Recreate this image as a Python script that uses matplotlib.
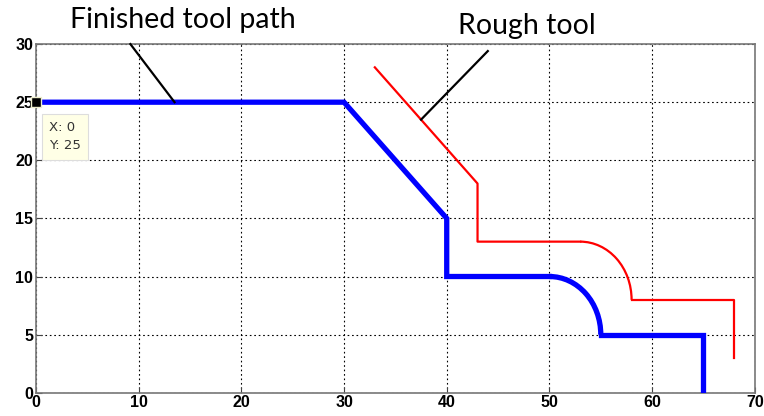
import matplotlib.pyplot as plt
from matplotlib.patches import Arc

# finished tool path (blue), straight parts
fin_x1 = [0, 30, 40, 40, 50]
fin_y1 = [25, 25, 15, 10, 10]
fin_x2 = [55, 65, 65]
fin_y2 = [5, 5, 0]
fin_arc = (50, 5, 5)  # centre x, centre y, radius

# rough tool path (red)
rough_x1 = [33, 43, 43, 53]
rough_y1 = [28, 18, 13, 13]
rough_x2 = [58, 68, 68]
rough_y2 = [8, 8, 3]
rough_arc = (53, 8, 5)

xticks = [0, 10, 20, 30, 40, 50, 60, 70]
yticks = [0, 5, 10, 15, 20, 25, 30]

tip_x, tip_y = 0, 25


def main():
  fig = plt.figure(figsize=(7.64, 4.16), dpi=100)
  ax = fig.add_axes([0.047, 0.056, 0.941, 0.838])

  blue = "#0000ff"
  red = "#ff0000"

  ax.plot(fin_x1, fin_y1, color=blue, lw=3.8, solid_joinstyle="miter", zorder=3)
  ax.plot(fin_x2, fin_y2, color=blue, lw=3.8, solid_joinstyle="miter", zorder=3)
  cx, cy, r = fin_arc
  ax.add_patch(Arc((cx, cy), 2*r, 2*r, theta1=0, theta2=90, color=blue, lw=3.8, zorder=3))

  ax.plot(rough_x1, rough_y1, color=red, lw=1.6, zorder=3)
  ax.plot(rough_x2, rough_y2, color=red, lw=1.6, zorder=3)
  cx, cy, r = rough_arc
  ax.add_patch(Arc((cx, cy), 2*r, 2*r, theta1=0, theta2=90, color=red, lw=1.6, zorder=3))

  ax.set_xlim(0, 70)
  ax.set_ylim(0, 30)
  ax.set_xticks(xticks)
  ax.set_yticks(yticks)
  ax.tick_params(direction="in", length=4, labelsize=11.5, pad=2, colors="#444444", labelcolor="black")
  for lab in ax.get_xticklabels() + ax.get_yticklabels():
    lab.set_fontweight("bold")
    lab.set_family("Liberation Sans")
  ax.grid(True, color="black", linestyle=(0, (1.5, 2.5)), lw=0.8)
  for s in ax.spines.values():
    s.set_color("#777777")
    s.set_linewidth(1.2)

  # data tip
  ax.plot([tip_x], [tip_y], marker="s", ms=7, color="black", mec="#eeeecc", mew=1, clip_on=False, zorder=5)
  ax.text(1.3, 23.4, "X: %d\nY: %d" % (tip_x, tip_y), fontsize=9.5, color="#333333",
          va="top", ha="left", linespacing=1.55, family="DejaVu Sans",
          bbox=dict(boxstyle="square,pad=0.55", fc="#ffffe6", ec="#dddddd", lw=0.8), zorder=5)

  # callouts
  ax.plot([9.2, 13.5], [30, 25], color="black", lw=1.6, clip_on=False, zorder=4)
  ax.plot([44, 37.5], [29.4, 23.5], color="black", lw=1.6, clip_on=False, zorder=4)
  fig.text(183/764, 1 - 20/416, "Finished tool path", fontsize=20.5, family="Lato",
           ha="center", va="center")
  fig.text(527/764, 1 - 26/416, "Rough tool", fontsize=20.5, family="Lato",
           ha="center", va="center")

  fig.savefig("out.png", dpi=100)


if __name__ == "__main__":
  main()
